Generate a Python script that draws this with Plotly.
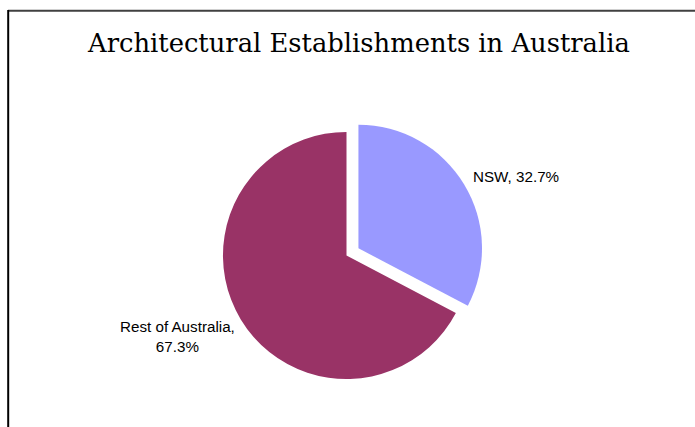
import plotly.graph_objects as go

# Share of architectural establishments by region
regions = ["NSW", "Rest of Australia"]
shares = [32.7, 67.3]
slice_colors = ["#9999FF", "#993366"]
title_text = "Architectural Establishments in Australia"

W, H = 695, 427


def px(x):
    return x / W


def py(y):
    return 1 - y / H


fig = go.Figure(
    go.Pie(
        labels=regions,
        values=shares,
        sort=False,
        direction="clockwise",
        rotation=0,
        pull=[0.113, 0],
        marker=dict(colors=slice_colors, line=dict(width=0)),
        textinfo="none",
        hoverinfo="label+percent",
        showlegend=False,
        domain=dict(x=[px(209), px(484)], y=[py(393), py(118)]),
    )
)

label_font = dict(family="Liberation Sans, Arial, sans-serif", size=15.2, color="#000000")

annotations = [
    dict(
        text=title_text,
        x=px(358), y=py(43), xref="paper", yref="paper",
        showarrow=False, xanchor="center", yanchor="middle",
        font=dict(family="DejaVu Serif, serif", size=25.8, color="#000000"),
    ),
    dict(
        text=f"{regions[0]}, {shares[0]:.1f}%",
        x=px(471), y=py(176), xref="paper", yref="paper",
        showarrow=False, xanchor="left", yanchor="middle", font=label_font,
    ),
    dict(
        text=f"{regions[1]},<br>{shares[1]:.1f}%",
        x=px(178), y=py(336), xref="paper", yref="paper",
        showarrow=False, xanchor="center", yanchor="middle", align="center",
        font=label_font,
    ),
]

# chart frame (top and left edges)
shapes = [
    dict(type="line", xref="paper", yref="paper", x0=px(8), x1=1, y0=py(10.8), y1=py(10.8),
         line=dict(color="#404040", width=2)),
    dict(type="line", xref="paper", yref="paper", x0=px(8.2), x1=px(8.2), y0=py(10), y1=0,
         line=dict(color="#000000", width=2)),
]

fig.update_layout(
    width=W, height=H,
    margin=dict(l=0, r=0, t=0, b=0),
    paper_bgcolor="#FFFFFF",
    plot_bgcolor="#FFFFFF",
    annotations=annotations,
    shapes=shapes,
)

fig.write_html("out.html")
